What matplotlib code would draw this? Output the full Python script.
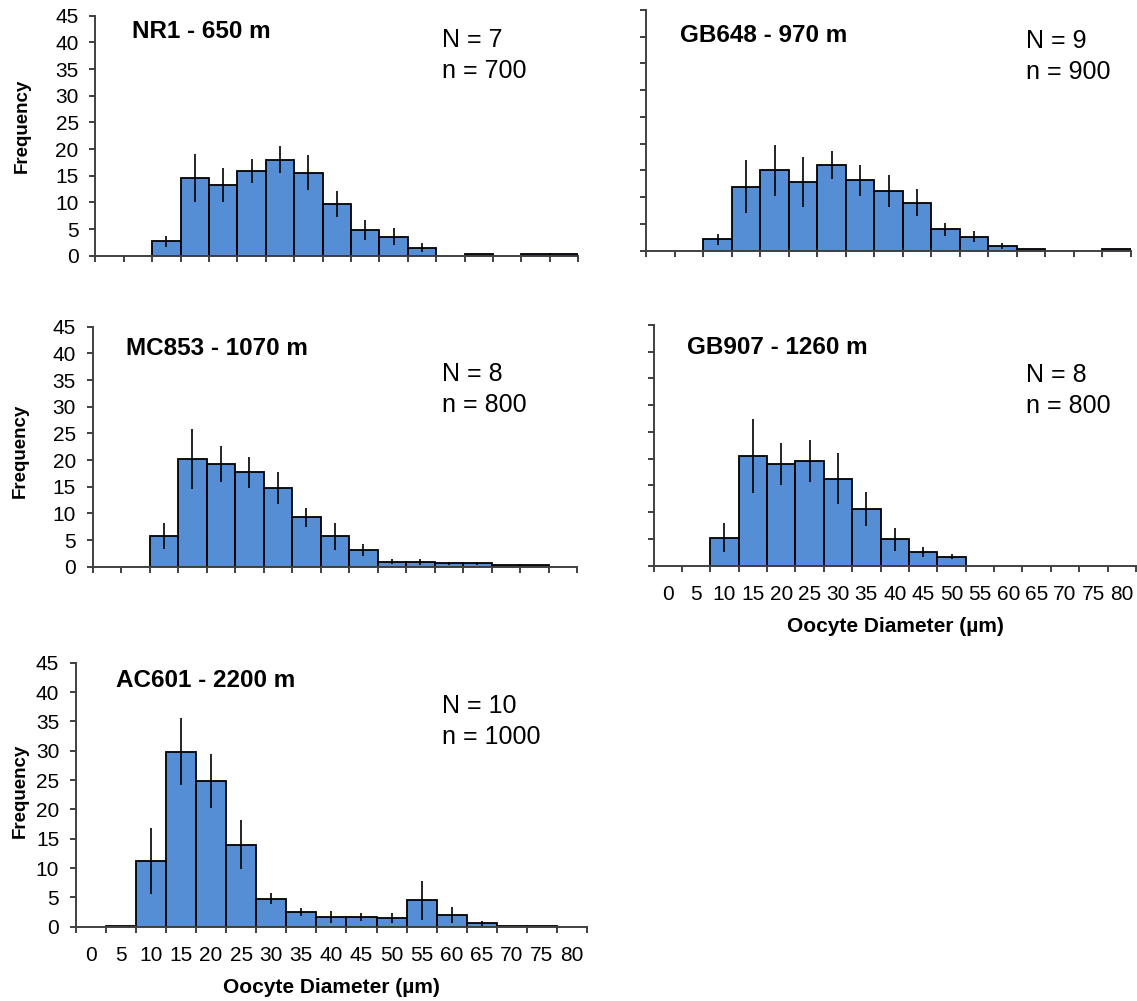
import numpy as np
import matplotlib
matplotlib.use("Agg")
import matplotlib.pyplot as plt

plt.rcParams['font.family'] = ['Liberation Sans', 'DejaVu Sans']

# oocyte diameter size classes (um)
size_classes = [0, 5, 10, 15, 20, 25, 30, 35, 40, 45, 50, 55, 60, 65, 70, 75, 80]

# mean frequency per size class and its error, one pair per site
nr1 = [0, 0, 2.7, 14.5, 13.2, 15.9, 18.0, 15.6, 9.7, 4.8, 3.6, 1.5, 0, 0.3, 0, 0.3, 0.3]
nr1_err = [0, 0, 1.0, 4.5, 3.2, 2.2, 2.5, 3.2, 2.5, 1.9, 1.6, 0.8, 0, 0, 0, 0, 0]

gb648 = [0, 0, 2.1, 12.0, 15.0, 12.9, 16.0, 13.2, 11.2, 9.0, 4.0, 2.6, 0.9, 0.4, 0, 0, 0.3]
gb648_err = [0, 0, 1.1, 5.0, 4.7, 4.7, 2.6, 2.9, 3.0, 2.6, 1.2, 1.0, 0.5, 0, 0, 0, 0]

mc853 = [0, 0, 5.75, 20.2, 19.25, 17.75, 14.7, 9.3, 5.7, 3.1, 0.95, 0.95, 0.65, 0.65, 0.3, 0.3, 0]
mc853_err = [0, 0, 2.4, 5.7, 3.3, 2.9, 3.0, 1.8, 2.5, 1.1, 0.45, 0.55, 0.3, 0.3, 0, 0, 0]

gb907 = [0, 0, 5.2, 20.5, 19.0, 19.6, 16.3, 10.6, 4.9, 2.55, 1.7, 0, 0, 0, 0, 0, 0]
gb907_err = [0, 0, 2.7, 7.0, 4.0, 3.9, 4.8, 3.1, 2.2, 1.0, 0.5, 0, 0, 0, 0, 0, 0]

ac601 = [0, 0.15, 11.25, 29.8, 24.9, 14.0, 4.8, 2.5, 1.7, 1.7, 1.5, 4.5, 2.0, 0.6, 0.15, 0.15, 0]
ac601_err = [0, 0, 5.6, 5.7, 4.6, 4.2, 1.0, 0.65, 1.0, 0.7, 0.8, 3.3, 1.3, 0.45, 0, 0, 0]

site_names = ["NR1 - 650 m", "GB648 - 970 m", "MC853 - 1070 m", "GB907 - 1260 m", "AC601 - 2200 m"]
n_animals = [7, 9, 8, 8, 10]
n_oocytes = [700, 900, 800, 800, 1000]

W, H = 1137, 1001
BAR_COLOR = "#558ED5"
AXIS_COLOR = "#404040"

fig = plt.figure(figsize=(W / 100, H / 100), dpi=100)


def px_axes(x0, y0, x1, y1):
    return fig.add_axes([x0 / W, 1 - y1 / H, (x1 - x0) / W, (y1 - y0) / H])


def ftext(x, y, s, **kw):
    return fig.text(x / W, 1 - y / H, s, **kw)


def draw_panel(rect, vals, errs, name, nn, n, title_xy, n_xy, ylabels, xlabels):
    ax = px_axes(*rect)
    vals = np.asarray(vals, dtype=float)
    errs = np.asarray(errs, dtype=float)
    pos = np.arange(len(size_classes))
    m = vals > 0
    ax.bar(pos[m], vals[m], width=1.0, color=BAR_COLOR, edgecolor="black",
           linewidth=1.3, zorder=2)
    e = errs > 0
    ax.errorbar(pos[e], vals[e], yerr=errs[e], fmt="none", ecolor="black",
                elinewidth=1.2, capsize=0, zorder=3)

    ax.set_xlim(-0.5, len(size_classes) - 0.5)
    ax.set_ylim(0, 45)
    ax.set_yticks(np.arange(0, 46, 5))
    ax.set_xticks(np.arange(len(size_classes) + 1) - 0.5)
    ax.set_xticklabels([])
    ax.set_xticks(pos, minor=True)
    ax.set_xticklabels([str(s) for s in size_classes] if xlabels else [], minor=True)

    for side in ("top", "right"):
        ax.spines[side].set_visible(False)
    for side in ("left", "bottom"):
        ax.spines[side].set_color(AXIS_COLOR)
        ax.spines[side].set_linewidth(1.4)
    ax.tick_params(axis="y", which="major", direction="out", length=4, width=1.4,
                   color=AXIS_COLOR, labelsize=15, pad=8, labelleft=ylabels)
    ax.tick_params(axis="x", which="major", direction="out", length=4, width=1.4,
                   color=AXIS_COLOR)
    ax.tick_params(axis="x", which="minor", length=0, labelsize=15, pad=14)
    ax.patch.set_alpha(0)

    ftext(title_xy[0], title_xy[1], name, fontsize=17.5, fontweight="bold",
          va="baseline")
    ftext(n_xy[0], n_xy[1], "N = %d" % nn, fontsize=18, va="baseline")
    ftext(n_xy[0], n_xy[1] + 31, "n = %d" % n, fontsize=18, va="baseline")
    return ax


draw_panel((95.4, 15.7, 578.3, 255.7), nr1, nr1_err, site_names[0], n_animals[0],
           n_oocytes[0], (132, 37.7), (442, 46.7), True, False)
draw_panel((646.4, 10, 1130.6, 250.7), gb648, gb648_err, site_names[1], n_animals[1],
           n_oocytes[1], (680.5, 41.7), (1026, 48.3), False, False)
draw_panel((92.5, 326.7, 577.1, 566.7), mc853, mc853_err, site_names[2], n_animals[2],
           n_oocytes[2], (126, 355), (442, 380.7), True, False)
draw_panel((653.5, 325, 1136, 565.7), gb907, gb907_err, site_names[3], n_animals[3],
           n_oocytes[3], (686.6, 354), (1026, 381.7), False, True)
draw_panel((75.8, 662.7, 587, 926.7), ac601, ac601_err, site_names[4], n_animals[4],
           n_oocytes[4], (116.5, 686.7), (442, 712.7), True, True)

# y axis labels
for cx, cy in [(22, 126), (20, 451), (20, 791)]:
    ftext(cx, cy, "Frequency", rotation=90, fontsize=13.5, fontweight="bold",
          ha="center", va="center")

# x axis labels
ftext(895, 631.7, "Oocyte Diameter (µm)", fontsize=15, fontweight="bold",
      ha="center", va="baseline")
ftext(331, 993, "Oocyte Diameter (µm)", fontsize=15, fontweight="bold",
      ha="center", va="baseline")

fig.savefig("out.png", dpi=100)
